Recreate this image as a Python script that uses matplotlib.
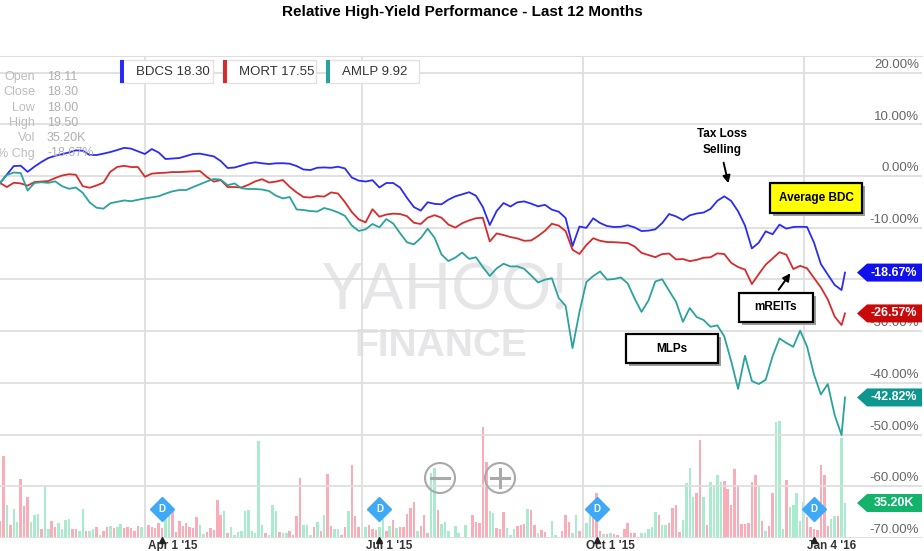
import matplotlib.pyplot as plt
import numpy as np
import pandas as pd
from matplotlib.patches import Rectangle, Polygon, Ellipse
from matplotlib.lines import Line2D
from matplotlib.transforms import blended_transform_factory

plt.rcParams['font.family'] = ['Liberation Sans', 'DejaVu Sans']

W, H = 924, 551

# trading sessions shown on the chart (exchange holidays removed)
holidays = ['2015-02-16', '2015-04-03', '2015-05-25', '2015-07-03', '2015-09-07',
            '2015-11-26', '2015-12-25', '2016-01-01', '2016-01-18']
sessions = pd.bdate_range('2015-01-30', '2016-01-21', freq='C', holidays=holidays)

# % change since start, read every second session plus the last one
bdcs_pct = [-1.35, 0.29, 1.93, 1.99, 0.81, 1.82, 2.71, 3.48, 3.91, 4.22,
            4.56, 4.97, 4.89, 4.06, 4.06, 4.33, 4.64, 5.03, 5.45, 5.30,
            4.78, 4.26, 5.22, 4.55, 3.29, 3.38, 3.48, 3.87, 4.26, 4.33,
            4.06, 3.79, 2.90, 1.55, 1.64, 2.03, 2.44, 2.65, 2.46, 2.32,
            2.46, 2.48, 2.38, 1.93, 1.26, 1.16, 1.60, 1.66, 1.59, 1.80,
            1.47, -0.29, -0.89, -1.06, -0.81, -2.22, -1.35, -1.35, -2.24, -4.22,
            -6.00, -6.69, -5.07, -5.38, -5.47, -4.58, -3.93, -3.54, -3.13, -3.81,
            -6.00, -9.48, -6.77, -5.22, -5.90, -5.09, -4.91, -5.34, -5.86, -5.57,
            -6.50, -6.90, -8.12, -13.54, -9.77, -10.02, -8.18, -9.09, -9.67, -9.86,
            -9.81, -9.52, -9.94, -10.64, -10.56, -10.31, -9.09, -7.35, -7.80, -8.51,
            -7.60, -7.25, -7.06, -6.36, -4.78, -3.93, -4.82, -6.83, -9.57, -14.00,
            -12.88, -10.70, -11.26, -9.40, -10.17, -9.86, -9.81, -9.86, -12.86, -17.02,
            -19.05, -21.06, -22.05, -18.67]

mort_pct = [-1.35, -2.13, -1.30, -1.43, -1.86, -1.16, -1.06, -0.97, -0.39, 0.10,
            0.35, 0.25, -1.97, -2.26, -1.82, -1.26, 0.83, 1.76, 1.97, 1.74,
            1.74, -0.14, 0.46, 0.58, 0.64, 0.77, 0.77, 0.83, 0.91, 0.95,
            -0.19, -1.08, -0.79, -2.13, -2.13, -2.22, -1.70, -1.03, -0.62, -1.26,
            -1.08, -0.77, -2.09, -3.17, -4.06, -4.16, -3.87, -3.98, -3.17, -3.38,
            -5.03, -6.96, -8.38, -8.96, -6.42, -7.87, -7.45, -7.27, -7.35, -7.76,
            -9.03, -9.28, -8.05, -7.58, -8.05, -9.38, -9.98, -9.13, -8.59, -8.16,
            -8.08, -12.65, -11.10, -11.41, -11.80, -12.07, -12.53, -12.46, -11.61, -10.60,
            -9.23, -9.59, -10.66, -14.26, -15.07, -13.35, -12.03, -12.53, -12.77, -12.79,
            -12.88, -12.96, -13.62, -14.86, -15.28, -15.69, -15.09, -14.99, -16.13, -16.05,
            -16.46, -16.21, -15.80, -15.71, -14.95, -15.09, -16.79, -17.60, -18.09, -20.89,
            -18.96, -17.14, -15.94, -14.72, -15.22, -17.99, -17.37, -17.85, -19.71, -21.53,
            -23.85, -27.18, -28.82, -26.57]

amlp_pct = [-1.35, 0.19, 0.68, 0.58, -2.80, -1.35, -1.20, -1.32, -1.03, -1.97,
            -2.46, -2.22, -3.25, -5.11, -6.13, -6.31, -5.26, -4.99, -4.72, -4.87,
            -4.60, -4.33, -4.12, -3.91, -3.40, -2.96, -2.71, -2.71, -2.13, -1.59,
            -1.04, -0.58, -0.70, -1.78, -1.43, -2.36, -2.51, -2.51, -2.61, -2.90,
            -3.79, -4.33, -4.06, -6.46, -6.58, -6.77, -6.87, -6.19, -6.54, -7.04,
            -7.70, -9.57, -10.62, -10.31, -9.28, -9.92, -8.32, -9.19, -11.06, -12.82,
            -13.21, -11.99, -10.19, -11.93, -15.16, -16.44, -15.78, -14.80, -16.02, -15.71,
            -17.60, -19.34, -17.87, -16.96, -17.49, -17.47, -17.95, -19.23, -20.58, -20.04,
            -19.77, -23.60, -25.11, -33.27, -26.31, -20.50, -19.34, -18.45, -20.04, -19.92,
            -19.61, -20.77, -23.69, -26.27, -24.10, -20.39, -19.96, -22.19, -24.31, -28.20,
            -25.53, -27.27, -27.85, -29.15, -28.88, -31.03, -35.80, -41.16, -34.76, -39.65,
            -40.23, -39.40, -34.87, -31.41, -32.28, -33.02, -29.90, -32.98, -38.38, -42.24,
            -40.23, -46.23, -50.10, -42.82]

# BDCS daily volume (K), one per session
bdcs_vol = [17, 83, 33, 13, 29, 16, 59, 32, 41, 16,
            23, 24, 9, 52, 9, 17, 11, 15, 9, 18,
            19, 9, 9, 7, 29, 7, 7, 9, 11, 3,
            7, 11, 12, 10, 11, 14, 10, 11, 10, 7,
            12, 11, 23, 13, 11, 10, 15, 10, 23, 24,
            27, 6, 17, 12, 15, 11, 10, 21, 13, 4,
            6, 10, 8, 38, 23, 27, 5, 11, 3, 6,
            7, 27, 28, 7, 5, 98, 13, 5, 3, 33,
            27, 6, 5, 5, 7, 3, 22, 60, 13, 13,
            3, 11, 16, 7, 23, 64, 12, 9, 9, 3,
            11, 27, 73, 22, 11, 5, 11, 13, 9, 8,
            11, 19, 7, 12, 18, 10, 11, 11, 24, 30,
            36, 7, 12,
            23, 5, 65, 70, 28, 14, 16, 7, 1, 12,
            5, 1, 13, 1, 23, 16, 15, 112, 76, 27,
            25, 10, 9, 26, 10, 3, 9, 12, 13, 14,
            29, 28, 13, 5, 8, 6, 1, 17, 3, 1,
            7, 23, 16, 5, 23, 7, 11, 15, 23, 33,
            45, 7, 4, 4, 5, 4, 3, 1, 9, 15,
            5, 5, 1, 5, 5, 9, 11, 26, 23, 13,
            13, 15, 30, 33, 6, 18, 55, 70, 41, 45,
            99, 41, 13, 56, 53, 63, 56, 57, 49, 33,
            69, 53, 14, 14, 15, 56, 63, 53, 17, 7,
            12, 45, 117, 118, 9, 58, 31, 33, 45, 17,
            36, 21, 11, 9, 8, 73, 63, 12, 19, 22,
            22, 101, 35.2]

# u = up day (green bar), d = down day (pink bar)
vol_dir = ''.join([
    'dduduudddu', 'uuduudduuu', 'udduuduudu', 'dduduudddd', 'duuddddduu',
    'dddddddduu', 'ddddduduuu', 'uuuuuuuduu', 'uduudddduu', 'udududduud',
    'duddduuddd', 'uudududddd', 'dud',
    'dduuduuudu', 'ududdddddu', 'uddduuuddd', 'uddudduuuu', 'ddduudduud',
    'ddududdudd', 'dduuuuuudu', 'udddduuuud', 'duduuuuddd', 'dddddddudu',
    'dduuuduuuu', 'uddddddduu', 'duu'])

legend_last = {'BDCS': 18.30, 'MORT': 17.55, 'AMLP': 9.92}
info_rows = [('Open', '18.11'), ('Close', '18.30'), ('Low', '18.00'),
             ('High', '19.50'), ('Vol', '35.20K'), ('% Chg', '-18.67%')]

tick_dates = ['2015-04-01', '2015-07-01', '2015-10-01', '2016-01-04']
tick_labels = ["Apr 1 '15", "Jul 1 '15", "Oct 1 '15", "Jan 4 '16"]
div_dates = ['2015-04-09', '2015-07-09', '2015-10-07', '2016-01-07']
y_ticks = list(range(20, -80, -10))
hidden_labels = [-20]   # sits fully under the BDCS price tag

series = [('BDCS', bdcs_pct, '#2b2bf7', '#1111ee'),
          ('MORT', mort_pct, '#d82b2b', '#c80a0a'),
          ('AMLP', amlp_pct, '#2aa39c', '#0c968f')]


def fx(x):
    return x / W


def fy(y):
    return 1 - y / H


fig = plt.figure(figsize=(W / 100, H / 100), dpi=100)
rect = [0, fy(538), 922 / W, (538 - 56) / H]
ax_v = fig.add_axes(rect)
ax = fig.add_axes(rect, sharex=ax_v)
ax.patch.set_visible(False)

x_all = np.arange(len(sessions))
line_days = sessions[::2].append(sessions[-1:])
x_line = sessions.get_indexer(line_days)
tick_idx = sessions.get_indexer(pd.to_datetime(tick_dates))
div_idx = sessions.get_indexer(pd.to_datetime(div_dates))

# volume bars underneath
bar_cols = ['#abebcd' if c == 'u' else '#f9adb8' for c in vol_dir]
ax_v.bar(x_all, bdcs_vol, width=0.72, color=bar_cols, zorder=2)
ax_v.set_ylim(0, 485)
ax_v.axis('off')

# watermark
ax_v.text(fx(446), fy(292), 'YAHOO!', transform=fig.transFigure, ha='center', va='center',
          fontsize=45, color='#e6e6e8', family='Lato', zorder=0)
ax_v.text(fx(441), fy(346), 'FINANCE', transform=fig.transFigure, ha='center', va='center',
          fontsize=28, color='#e6e6e8', weight='bold', zorder=0)

ax.set_xlim(0, 922 / 3.449)
ax.set_ylim(-70, (176 - 56) / 5.17)
for v in y_ticks:
    ax.axhline(v, color='#dedede', lw=1.3, zorder=0)
for i in tick_idx:
    ax.axvline(i, color='#dedede', lw=1.3, zorder=0)
for name, sp in ax.spines.items():
    sp.set_visible(name == 'top')
ax.spines['top'].set_color('#dedede')
ax.set_xticks([])
ax.set_yticks([])

trans = blended_transform_factory(ax.transAxes, ax.transData)
for v in y_ticks:
    if v in hidden_labels:
        continue
    ax.text(0.997, v + 0.35, f'{v:.2f}%', transform=trans, ha='right', va='bottom',
            fontsize=9.5, color='#666666')

for i, lab in zip(tick_idx, tick_labels):
    ax.annotate(lab, xy=(i, 0), xycoords=('data', 'axes fraction'), xytext=(2.5, -1.5),
                textcoords='offset points', ha='left', va='top', fontsize=8.5,
                color='#333333', weight='bold', annotation_clip=False)

for name, pct, col, tag_col in series:
    ax.plot(x_line, pct, color=col, lw=1.3, zorder=3)

# dividend markers
trans_d = blended_transform_factory(ax.transData, fig.transFigure)
ax.plot(div_idx, [fy(509)] * len(div_idx), transform=trans_d, ls='none', marker='D',
        ms=12, color='#3ea9f4', zorder=4, clip_on=False)
ax.plot(div_idx, [fy(540)] * len(div_idx), transform=trans_d, ls='none', marker='^',
        ms=4, color='#222222', zorder=4, clip_on=False)
for i in div_idx:
    ax.text(i, fy(509), 'D', transform=trans_d, ha='center', va='center', fontsize=7,
            color='white', weight='bold', zorder=5)


def tag(yi, text, color):
    pts = [(fx(857), fy(yi)), (fx(867), fy(yi - 9)), (fx(922), fy(yi - 9)),
           (fx(922), fy(yi + 9)), (fx(867), fy(yi + 9))]
    fig.add_artist(Polygon(pts, closed=True, transform=fig.transFigure, fc=color,
                           ec='none', zorder=10))
    fig.text(fx(894), fy(yi), text, ha='center', va='center', fontsize=9,
             color='white', weight='bold', zorder=11)


for name, pct, col, tag_col in series:
    yi = H - ax.transData.transform((0, pct[-1]))[1]
    tag(yi, f'{pct[-1]:.2f}%', tag_col)
yi = H - ax_v.transData.transform((0, bdcs_vol[-1]))[1]
tag(yi, f'{bdcs_vol[-1]:.2f}K', '#13b36b')

# title
fig.text(0.5, fy(12), 'Relative High-Yield Performance - Last 12 Months', ha='center',
         va='center', fontsize=11, weight='bold')

# quote panel
for j, (k, v) in enumerate(info_rows):
    y = 77 + j * 15.3
    fig.text(fx(35), fy(y), k, ha='right', va='center', fontsize=9, color='#bdbdbd')
    fig.text(fx(47), fy(y), v, ha='left', va='center', fontsize=9, color='#b0b0b0')

# legend chips
for (name, pct, col, tag_col), x0 in zip(series, [120, 223, 326]):
    fig.add_artist(Rectangle((fx(x0), fy(83)), 93 / W, 23 / H, transform=fig.transFigure,
                             fc='white', ec='#e2e2e2', lw=1, zorder=6))
    fig.add_artist(Rectangle((fx(x0), fy(83)), 4 / W, 23 / H, transform=fig.transFigure,
                             fc=col, ec='none', zorder=7))
    fig.text(fx(x0 + 16), fy(72), f'{name} {legend_last[name]:.2f}', ha='left',
             va='center', fontsize=9.5, color='#333333', zorder=8)

# zoom buttons
for cx, plus in [(440, False), (500, True)]:
    fig.add_artist(Ellipse((fx(cx), fy(478)), 30 / W, 30 / H, transform=fig.transFigure,
                           fc='none', ec='#a9a9a9', lw=1.5, zorder=6))
    fig.add_artist(Line2D([fx(cx - 9), fx(cx + 9)], [fy(478)] * 2, transform=fig.transFigure,
                          color='#a9a9a9', lw=2.2, zorder=6))
    if plus:
        fig.add_artist(Line2D([fx(cx)] * 2, [fy(469), fy(487)], transform=fig.transFigure,
                              color='#a9a9a9', lw=2.2, zorder=6))


def callout(x0, y0, x1, y1, text, fc):
    fig.add_artist(Rectangle((fx(x0 + 3), fy(y1 + 3)), (x1 - x0) / W, (y1 - y0) / H,
                             transform=fig.transFigure, fc='#9c9c9c', ec='none', zorder=12))
    fig.add_artist(Rectangle((fx(x0), fy(y1)), (x1 - x0) / W, (y1 - y0) / H,
                             transform=fig.transFigure, fc=fc, ec='black', lw=1.6, zorder=13))
    fig.text(fx((x0 + x1) / 2), fy((y0 + y1) / 2), text, ha='center', va='center',
             fontsize=8.5, weight='bold', zorder=14)


callout(770, 183, 862, 213, 'Average BDC', '#ffff00')
callout(739, 293, 813, 322, 'mREITs', 'white')
callout(626, 334, 718, 363, 'MLPs', 'white')

fig.text(fx(722), fy(142), 'Tax Loss\nSelling', ha='center', va='center', fontsize=8.5,
         weight='bold', linespacing=1.5, zorder=14)
arrow = dict(arrowstyle='-|>', color='black', lw=1.4, mutation_scale=11)
ax.annotate('', xy=(729, H - 186), xycoords='figure pixels', xytext=(723, H - 160),
            textcoords='figure pixels', arrowprops=arrow, annotation_clip=False)
ax.annotate('', xy=(792, H - 271), xycoords='figure pixels', xytext=(777, H - 292),
            textcoords='figure pixels', arrowprops=arrow, annotation_clip=False)

fig.savefig('out.png', dpi=100)
